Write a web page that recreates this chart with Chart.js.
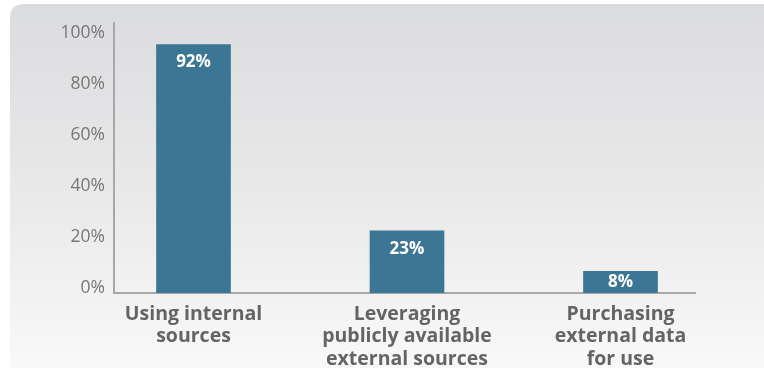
<!DOCTYPE html>
<html>
<head>
<meta charset="utf-8">
<script src="https://cdn.jsdelivr.net/npm/chart.js@4"></script>
<style>
  html, body { margin: 0; padding: 0; background: #ffffff; }
  #wrap { width: 764px; height: 368px; }
</style>
</head>
<body>
<div id="wrap"><canvas id="c" width="764" height="368"></canvas></div>
<script>
// Share of respondents by data-sourcing approach
const categories = [
  ['Using internal', 'sources'],
  ['Leveraging', 'publicly available', 'external sources'],
  ['Purchasing', 'external data', 'for use']
];
const shares = [92, 23, 8];
const yTickValues = [0, 20, 40, 60, 80, 100];

const BAR = '#3b7694';
const AXIS = '#a8a8a8';
const FONT = '"Open Sans", sans-serif';

// Soft gray panel with a rounded top-left corner, fading to white
const panelBackground = {
  id: 'panelBackground',
  beforeDraw(chart) {
    const { ctx, width, height } = chart;
    ctx.save();
    ctx.fillStyle = '#ffffff';
    ctx.fillRect(0, 0, width, height);
    const x0 = 10, y0 = 4, r = 14;
    const g = ctx.createLinearGradient(0, y0, 0, height);
    g.addColorStop(0, '#dbdcdf');
    g.addColorStop(0.45, '#e7e7e8');
    g.addColorStop(0.8, '#f2f2f2');
    g.addColorStop(1, '#f9f9f9');
    ctx.fillStyle = g;
    ctx.beginPath();
    ctx.moveTo(x0, height);
    ctx.lineTo(x0, y0 + r);
    ctx.quadraticCurveTo(x0, y0, x0 + r, y0);
    ctx.lineTo(width, y0);
    ctx.lineTo(width, height);
    ctx.closePath();
    ctx.fill();
    ctx.restore();
  }
};

// White value labels inside the top of each bar
const barValues = {
  id: 'barValues',
  afterDatasetsDraw(chart) {
    const { ctx } = chart;
    const meta = chart.getDatasetMeta(0);
    ctx.save();
    ctx.fillStyle = '#ffffff';
    ctx.font = 'bold 17px ' + FONT;
    ctx.textAlign = 'center';
    ctx.textBaseline = 'middle';
    meta.data.forEach((bar, i) => {
      const top = bar.y, bottom = bar.base;
      const y = Math.min(top + 18, (top + bottom) / 2);
      ctx.fillText(shares[i] + '%', bar.x, y);
    });
    ctx.restore();
  }
};

new Chart(document.getElementById('c'), {
  type: 'bar',
  data: {
    datasets: [{
      data: shares.map((v, i) => ({ x: i, y: v })),
      backgroundColor: BAR,
      borderWidth: 0,
      barThickness: 74
    }]
  },
  options: {
    responsive: false,
    animation: false,
    events: [],
    layout: { padding: { top: 23, right: 69, left: 0, bottom: 0 } },
    plugins: { legend: { display: false }, tooltip: { enabled: false } },
    scales: {
      x: {
        type: 'linear',
        offset: false,
        min: -0.3724,
        max: 2.349,
        grid: { display: false, drawTicks: false, offset: false },
        border: { display: true, color: AXIS, width: 2 },
        afterBuildTicks(scale) {
          scale.ticks = categories.map((c, i) => ({ value: i }));
        },
        afterFit(scale) { scale.height = 75; },
        ticks: {
          autoSkip: false,
          maxRotation: 0,
          padding: 10,
          color: '#646464',
          font: { family: FONT, size: 19.5, weight: 'bold', lineHeight: 1.15 },
          callback: (v) => categories[v]
        }
      },
      y: {
        type: 'linear',
        min: 0,
        max: 100,
        weight: 0,
        grid: { display: false, drawTicks: false },
        border: { display: true, color: AXIS, width: 2 },
        ticks: { display: false },
        afterFit(scale) { scale.width = 0; }
      },
      yLabels: {
        type: 'linear',
        position: 'left',
        weight: 1,
        min: -1.8,
        max: 104.05,
        grid: { display: false, drawTicks: false },
        border: { display: false },
        afterBuildTicks(scale) {
          scale.ticks = yTickValues.map(v => ({ value: v }));
        },
        afterFit(scale) { scale.width = 114; },
        ticks: {
          padding: 9,
          color: '#777777',
          font: { family: FONT, size: 17.5 },
          callback: (v) => v + '%'
        }
      }
    }
  },
  plugins: [panelBackground, barValues]
});
</script>
</body>
</html>
